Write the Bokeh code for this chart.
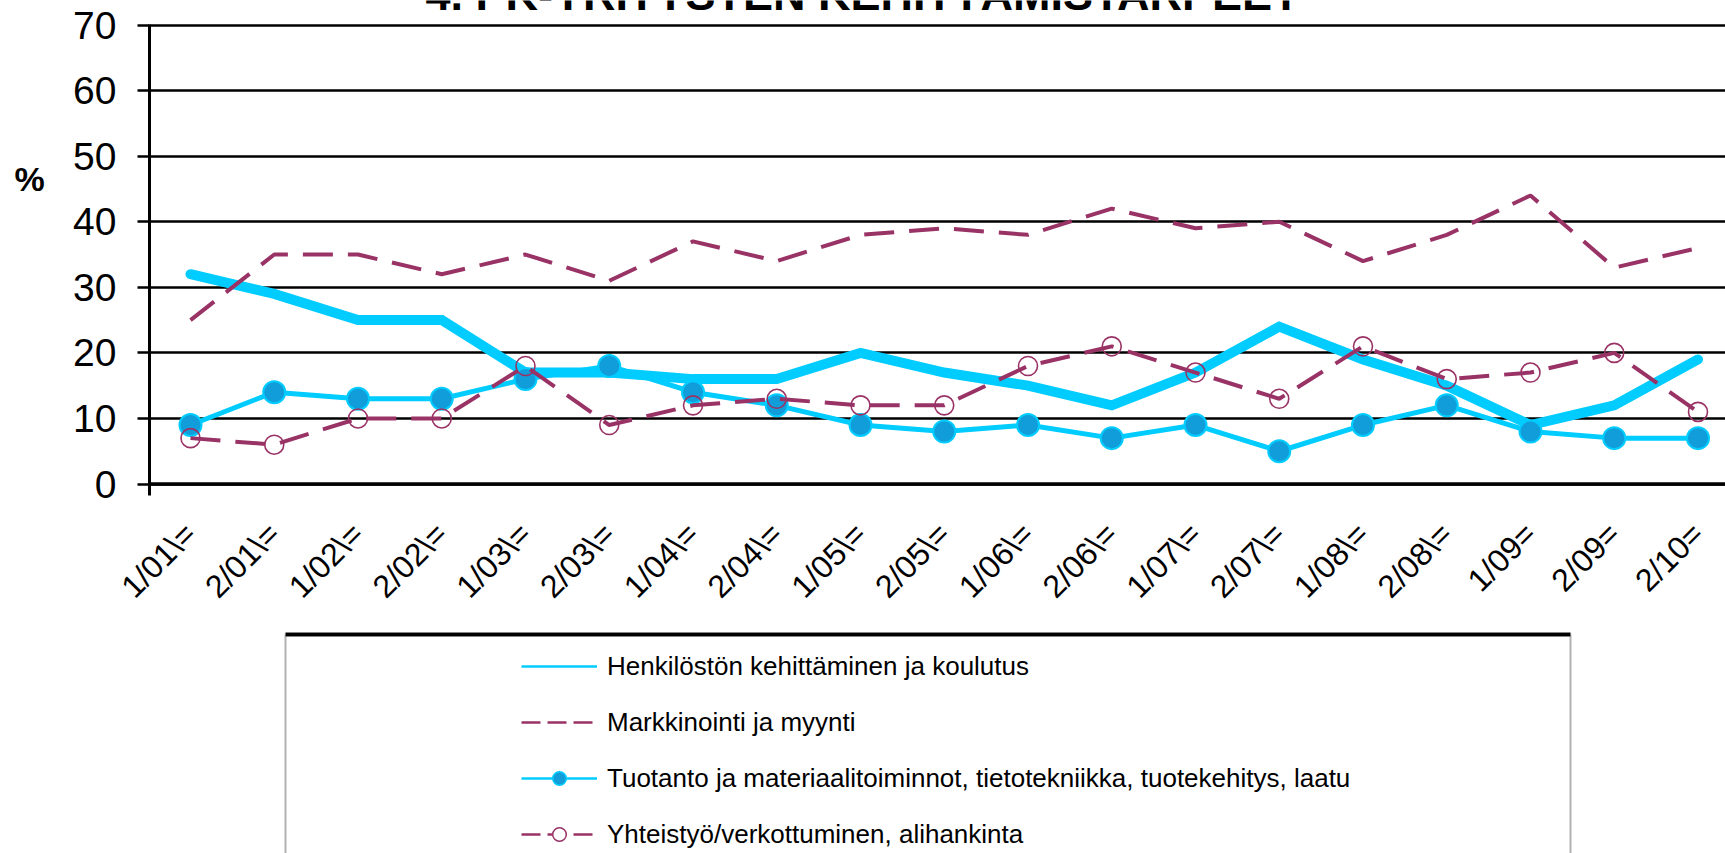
from math import pi
from bokeh.plotting import figure
from bokeh.layouts import column, row
from bokeh.models import (Range1d, FixedTicker, Span, Label, Legend, LegendItem,
                          BoxAnnotation)
from bokeh.embed import file_html
from bokeh.resources import INLINE

# ---------------- data ----------------
periods = ["1/01\\=", "2/01\\=", "1/02\\=", "2/02\\=", "1/03\\=", "2/03\\=",
           "1/04\\=", "2/04\\=", "1/05\\=", "2/05\\=", "1/06\\=", "2/06\\=",
           "1/07\\=", "2/07\\=", "1/08\\=", "2/08\\=", "1/09=", "2/09=", "2/10="]
henkilosto = [32, 29, 25, 25, 17, 17, 16, 16, 20, 17, 15, 12, 17, 24, 19, 15, 9, 12, 19]
markkinointi = [25, 35, 35, 32, 35, 31, 37, 34, 38, 39, 38, 42, 39, 40, 34, 38, 44, 33, 36]
tuotanto = [9, 14, 13, 13, 16, 18, 14, 12, 9, 8, 9, 7, 9, 5, 9, 12, 8, 7, 7]
yhteistyo = [7, 6, 10, 10, 18, 9, 12, 13, 12, 12, 18, 21, 17, 13, 21, 16, 17, 20, 11]
series_names = ["Henkilöstön kehittäminen ja koulutus",
                "Markkinointi ja myynti",
                "Tuotanto ja materiaalitoiminnot, tietotekniikka, tuotekehitys, laatu",
                "Yhteistyö/verkottuminen, alihankinta"]
y_ticks = [0, 10, 20, 30, 40, 50, 60, 70]
title_text = "4. PK-YRITYSTEN KEHITTÄMISTARPEET"
y_label_text = "%"

# off-view anchor values for the legend sample glyphs (not drawn in view)
legend_proxy_x = [-2, -1]
legend_proxy_y = [-2, -1]

# ---------------- style ----------------
CYAN = "#00CCFF"
MFILL = "#109DDA"
PURPLE = "#993366"
FONT = "Liberation Sans"
DASH = "30 15"

TOP_H = 620
PCT_W = 60
CHART_W = 1725 - PCT_W
LEG_H = 853 - TOP_H
FRAME_BOTTOM = 504   # page y of the chart frame bottom

x = list(range(len(periods)))

# ---------------- "%" strip ----------------
fig_pct = figure(width=PCT_W, height=TOP_H, output_backend="svg", toolbar_location=None,
                 x_axis_type=None, y_axis_type=None, min_border=0)
fig_pct.outline_line_color = None
fig_pct.grid.visible = False
fig_pct.add_layout(Label(x=29, y=FRAME_BOTTOM - 187, x_units="screen", y_units="screen",
                         text=y_label_text, text_font=FONT, text_font_style="bold",
                         text_font_size="34px", text_align="center",
                         text_baseline="middle", text_color="black"))

# ---------------- chart ----------------
p = figure(width=CHART_W, height=TOP_H, output_backend="svg", toolbar_location=None,
           x_range=Range1d(-0.48955, 18.3284), y_range=Range1d(-1.75, 73.744),
           min_border_left=89, min_border_right=0, min_border_top=0,
           min_border_bottom=TOP_H - FRAME_BOTTOM)
p.outline_line_color = None
p.background_fill_color = "white"
p.border_fill_color = "white"

p.yaxis.ticker = FixedTicker(ticks=y_ticks)
p.yaxis.bounds = (-1.75, 70.15)
p.yaxis.axis_line_width = 3
p.yaxis.axis_line_color = "black"
p.yaxis.major_tick_line_width = 2.5
p.yaxis.major_tick_out = 12
p.yaxis.major_tick_in = 0
p.yaxis.minor_tick_line_color = None
p.yaxis.major_label_text_font = FONT
p.yaxis.major_label_text_font_size = "39px"
p.yaxis.major_label_text_color = "black"
p.yaxis.major_label_standoff = 21

p.xaxis.ticker = FixedTicker(ticks=x)
p.xaxis.major_label_overrides = {i: lab for i, lab in enumerate(periods)}
p.xaxis.major_label_orientation = pi / 4
p.xaxis.axis_line_color = None
p.xaxis.major_tick_line_color = None
p.xaxis.minor_tick_line_color = None
p.xaxis.major_label_text_font = FONT
p.xaxis.major_label_text_font_size = "32px"
p.xaxis.major_label_text_color = "black"
p.xaxis.major_label_standoff = 27

p.xgrid.grid_line_color = None
p.ygrid.ticker = FixedTicker(ticks=y_ticks)
p.ygrid.grid_line_color = "black"
p.ygrid.grid_line_width = 2.5
p.add_layout(Span(location=0, dimension="width", line_color="black", line_width=3.5))

p.line(x, henkilosto, line_color=CYAN, line_width=10, line_join="miter", line_cap="round")
p.line(x, markkinointi, line_color=PURPLE, line_width=4, line_dash=DASH)
p.line(x, tuotanto, line_color=CYAN, line_width=5)
p.scatter(x, tuotanto, size=22, fill_color=MFILL, line_color=CYAN, line_width=2)
p.line(x, yhteistyo, line_color=PURPLE, line_width=4, line_dash=DASH)
p.scatter(x, yhteistyo, size=19, fill_alpha=0, line_color=PURPLE, line_width=1.6)

# title (only its lower part is inside the page, as in the reference)
p.add_layout(Label(x=862 - 149, y=FRAME_BOTTOM - 3, x_units="screen", y_units="screen",
                   text=title_text, text_font=FONT, text_font_style="bold",
                   text_font_size="45px", text_align="center",
                   text_baseline="alphabetic", text_color="black"))

# ---------------- legend strip ----------------
fig_leg = figure(width=1725, height=LEG_H, output_backend="svg", toolbar_location=None,
                 x_axis_type=None, y_axis_type=None, min_border=0,
                 x_range=Range1d(0, 1), y_range=Range1d(0, 1))
fig_leg.outline_line_color = None
fig_leg.grid.visible = False

fig_leg.add_layout(BoxAnnotation(left=285, right=1570, top=LEG_H - 14, bottom=-40,
                                 left_units="screen", right_units="screen",
                                 top_units="screen", bottom_units="screen",
                                 fill_color="white", fill_alpha=1, line_color="black",
                                 line_width=2))
fig_leg.add_layout(BoxAnnotation(left=285, right=1570, top=LEG_H - 12, bottom=LEG_H - 16,
                                 left_units="screen", right_units="screen",
                                 top_units="screen", bottom_units="screen",
                                 fill_color="black", fill_alpha=1, line_color="#999999",
                                 line_width=1))

lA = fig_leg.line(legend_proxy_x, legend_proxy_y, line_color=CYAN, line_width=2.5)
lB = fig_leg.line(legend_proxy_x, legend_proxy_y, line_color=PURPLE, line_width=2.5,
                  line_dash="19 7")
lC = fig_leg.line(legend_proxy_x, legend_proxy_y, line_color=CYAN, line_width=2.5)
lCm = fig_leg.scatter(legend_proxy_x, legend_proxy_y, fill_color=MFILL, line_color=CYAN,
                      line_width=1.5)
lD = fig_leg.line(legend_proxy_x, legend_proxy_y, line_color=PURPLE, line_width=2.5,
                  line_dash="19 7")
lDm = fig_leg.scatter(legend_proxy_x, legend_proxy_y, fill_color="white", fill_alpha=1,
                      line_color=PURPLE, line_width=1.5)

legend = Legend(items=[LegendItem(label=series_names[0], renderers=[lA]),
                       LegendItem(label=series_names[1], renderers=[lB]),
                       LegendItem(label=series_names[2], renderers=[lC, lCm]),
                       LegendItem(label=series_names[3], renderers=[lD, lDm])],
                location=(521, 2), orientation="vertical", padding=0, margin=0,
                spacing=22, glyph_width=76, glyph_height=34, label_height=34,
                label_standoff=10, label_text_font=FONT, label_text_font_size="26px",
                label_text_color="black", border_line_alpha=0, background_fill_alpha=0)
fig_leg.add_layout(legend, "center")

layout = column(row(fig_pct, p), fig_leg)
open("out.html", "w").write(file_html(layout, INLINE))
